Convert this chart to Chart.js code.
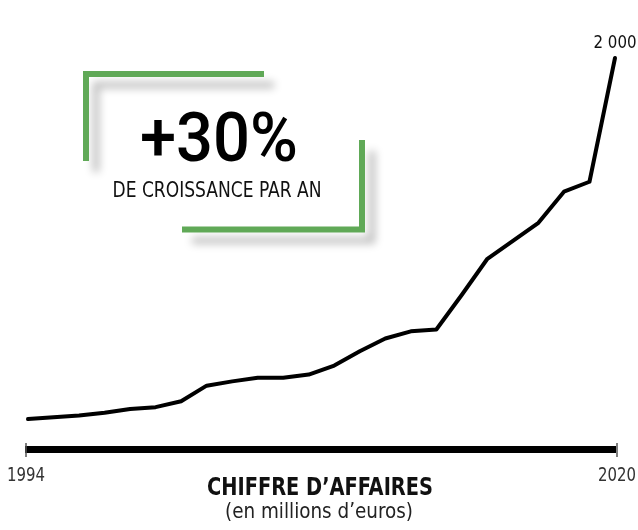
<!DOCTYPE html>
<html>
<head>
<meta charset="utf-8">
<script src="https://cdn.jsdelivr.net/npm/chart.js@4.4.1/dist/chart.umd.min.js"></script>
<style>
html, body { margin: 0; padding: 0; background: #fff; }
#wrap { width: 638px; height: 530px; }
</style>
</head>
<body>
<div id="wrap"><canvas id="revenueChart" width="638" height="530"></canvas></div>
<script>
// only the two ends carry a year label
const labels = ['1994', '', '', '', '', '', '', '', '', '', '', '', '', '', '', '', '', '', '', '', '', '', '', '2020'];
const revenue = [153, 162, 171, 185, 205, 214, 244, 324, 346, 364, 364, 381, 427, 500, 565, 602, 611, 789, 973, 1065, 1157, 1316, 1367, 2000];
const lastValueLabel = '2 000';
const growthLabel = '+30%';
const growthCaption = 'DE CROISSANCE PAR AN';
const axisTitle = 'CHIFFRE D’AFFAIRES';
const axisSubtitle = '(en millions d’euros)';

const FONT = '"Liberation Sans Narrow", "DejaVu Sans Condensed", sans-serif';
const GREEN = '#60a957';

// draw text squeezed/stretched to a given width
function fitText(ctx, text, x, y, font, width, align) {
    ctx.save();
    ctx.font = font;
    const w = ctx.measureText(text).width;
    ctx.translate(x, y);
    ctx.scale(width / w, 1);
    ctx.textAlign = align || 'center';
    ctx.textBaseline = 'alphabetic';
    ctx.fillText(text, 0, 0);
    ctx.restore();
}

const decorations = {
    id: 'decorations',
    beforeDatasetsDraw(chart) {
        const ctx = chart.ctx;
        ctx.save();
        ctx.strokeStyle = GREEN;
        ctx.lineWidth = 6;
        ctx.lineJoin = 'miter';
        ctx.lineCap = 'butt';
        ctx.shadowColor = 'rgba(0, 0, 0, 0.28)';
        ctx.shadowBlur = 8;
        ctx.shadowOffsetX = 10;
        ctx.shadowOffsetY = 11;

        ctx.beginPath();
        ctx.moveTo(264, 74);
        ctx.lineTo(86, 74);
        ctx.lineTo(86, 161);
        ctx.stroke();

        ctx.beginPath();
        ctx.moveTo(362, 140);
        ctx.lineTo(362, 229.5);
        ctx.lineTo(182, 229.5);
        ctx.stroke();
        ctx.restore();

        ctx.save();
        ctx.fillStyle = '#000';
        fitText(ctx, growthLabel, 219, 161, '500 69px Roboto, ' + FONT, 158);
        ctx.fillStyle = '#111';
        fitText(ctx, growthCaption, 217, 197, '22px ' + FONT, 209);
        ctx.restore();
    },
    afterDraw(chart) {
        const ctx = chart.ctx;
        const x = chart.scales.x;
        const first = x.getPixelForValue(0);
        const last = x.getPixelForValue(labels.length - 1);

        ctx.save();
        // thin end ticks on the axis
        ctx.strokeStyle = '#555';
        ctx.lineWidth = 1.5;
        ctx.beginPath();
        ctx.moveTo(first - 2, 443);
        ctx.lineTo(first - 2, 457);
        ctx.moveTo(last + 2, 443);
        ctx.lineTo(last + 2, 457);
        ctx.stroke();

        ctx.fillStyle = '#333';
        fitText(ctx, labels[0], first - 2, 481, '20px ' + FONT, 38);
        fitText(ctx, labels[labels.length - 1], last + 2, 481, '20px ' + FONT, 38);

        ctx.fillStyle = '#111';
        fitText(ctx, lastValueLabel, last, 48, '18px ' + FONT, 43);

        ctx.fillStyle = '#111';
        fitText(ctx, axisTitle, 320, 495, 'bold 25px ' + FONT, 226);
        ctx.fillStyle = '#222';
        fitText(ctx, axisSubtitle, 319, 518, '22px ' + FONT, 188);
        ctx.restore();
    }
};

const revenueChart = new Chart(document.getElementById('revenueChart').getContext('2d'), {
    type: 'line',
    data: {
        labels: labels,
        datasets: [{
            data: revenue,
            borderColor: '#000',
            borderWidth: 4,
            borderJoinStyle: 'round',
            borderCapStyle: 'round',
            pointRadius: 0,
            tension: 0,
            fill: false,
            clip: false
        }]
    },
    options: {
        responsive: false,
        animation: false,
        layout: {
            padding: { left: 28, right: 23, top: 58, bottom: 73 }
        },
        plugins: {
            legend: { display: false },
            tooltip: { enabled: false }
        },
        scales: {
            x: {
                grid: { display: false },
                ticks: { display: false },
                border: { display: true, width: 7, color: '#000' }
            },
            y: {
                display: false,
                min: 0,
                max: 2000
            }
        }
    },
    plugins: [decorations]
});
</script>
</body>
</html>
